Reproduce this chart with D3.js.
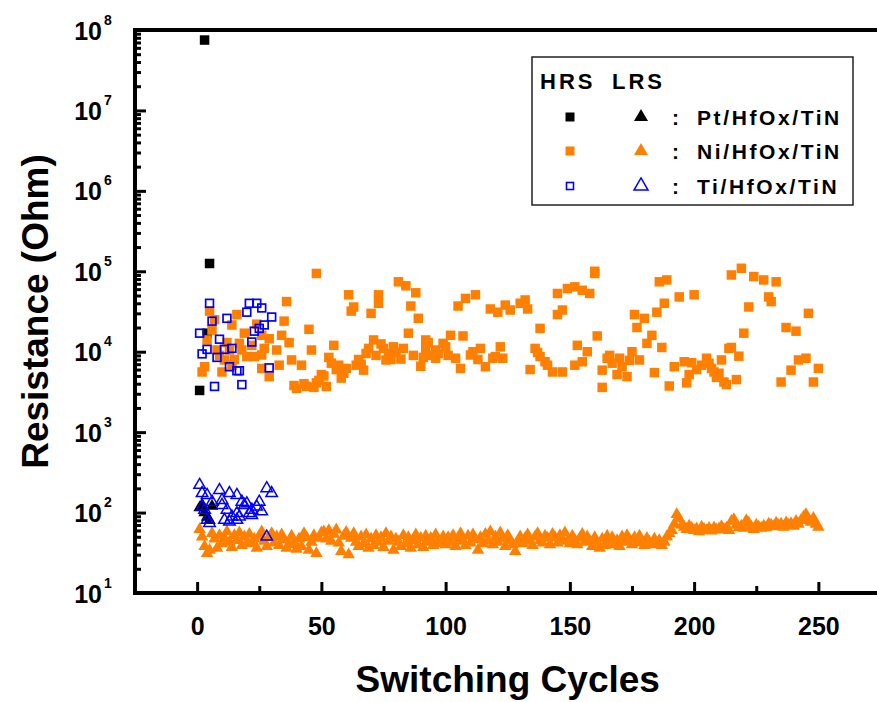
<!DOCTYPE html>
<html>
<head>
<meta charset="utf-8">
<script src="https://cdn.jsdelivr.net/npm/d3@7"></script>
<style>
  html, body { margin: 0; padding: 0; background: #fff; }
  svg { display: block; }
  text { font-family: "Liberation Sans", Arial, sans-serif; font-weight: bold; fill: #000; }
</style>
</head>
<body>
<svg id="chart" width="877" height="702"></svg>
<script>
// ---- data: [cycle, resistance in ohm] ----
const ptHRS = [[1, 3300], [3, 75000000], [4, 17000], [5, 125000]];
const ptLRS = [[1, 115], [2, 125], [3, 100], [4, 88], [5, 80], [6, 120]];

const niHRS = [
  [2, 5600], [3, 6500], [4, 14000], [5, 32000], [6, 18600], [7, 25000], [8, 10500], [9, 9000],
  [10, 5600], [11, 7900], [12, 13000], [13, 10500], [14, 21500], [14, 6800], [15, 8000],
  [16, 29000], [17, 12700], [18, 10500], [19, 17000], [20, 8700], [22, 12000], [23, 8700],
  [24, 22000], [26, 9100], [26, 16000], [26, 6200], [27, 11000], [29, 14500], [29, 4900],
  [32, 10500], [33, 6800], [34, 16000], [35, 24000], [36, 42000], [37, 13000], [38, 7900],
  [39, 3800], [40, 3500], [42, 6800], [43, 4000], [44, 3700], [45, 19000], [46, 10500],
  [47, 3600], [48, 4100], [48, 94000], [49, 4400], [50, 5200], [51, 5000], [52, 3700],
  [53, 8500], [54, 7200], [55, 12000], [56, 6000], [57, 6800], [58, 4700], [59, 5400],
  [60, 6200], [61, 51000], [62, 32000], [63, 36000], [64, 6800], [65, 8000], [66, 7000],
  [67, 5900], [68, 9500], [69, 11000], [70, 30000], [71, 14000], [72, 9000], [73, 51000],
  [73, 40000], [74, 12500], [75, 11000], [76, 7900], [77, 9500], [78, 8000], [79, 11500],
  [80, 9800], [81, 74000], [82, 8100], [83, 11000], [84, 66000], [85, 17000], [86, 37000],
  [87, 9000], [88, 54000], [89, 26000], [90, 6600], [91, 8500], [92, 14000], [92, 11000],
  [93, 13000], [94, 9000],
  [96, 10500], [96, 8300], [97, 9500], [99, 12700], [100, 11500], [101, 9000], [102, 16000],
  [104, 8300], [105, 37000], [106, 6200], [107, 15700], [108, 46000], [110, 9100],
  [111, 10000], [112, 51000], [113, 8000], [114, 11000], [116, 6500], [118, 34000],
  [119, 8300], [120, 8700], [121, 31000], [122, 11500], [123, 8300], [124, 38000],
  [126, 33000], [130, 40000], [132, 44000], [133, 34000], [134, 6000], [136, 11000],
  [137, 9800], [138, 8700], [138, 19500], [140, 7500], [141, 6800], [143, 5600],
  [145, 53000], [145, 29000], [147, 33000], [147, 5600], [149, 61000], [152, 64000],
  [152, 6800], [153, 12000], [155, 58000], [155, 7500], [157, 10000], [158, 53000],
  [160, 94000], [160, 100000], [161, 15700], [163, 5900], [163, 3600], [165, 8300],
  [166, 9000], [167, 7200], [169, 5200], [170, 8300], [171, 6500], [173, 4900],
  [174, 7800], [175, 10000], [176, 29000], [177, 20000], [178, 7900], [180, 26000],
  [181, 12700], [183, 16000], [184, 5500], [185, 31000], [186, 74000], [187, 11300],
  [188, 40000], [189, 78000], [190, 3750], [192, 6500], [194, 48000], [196, 7500],
  [197, 4100], [198, 5200], [199, 7300], [200, 51000], [201, 6000], [203, 6800],
  [205, 8300], [206, 7200], [207, 6200], [208, 5600], [209, 4800], [210, 5400],
  [211, 7900], [212, 4200], [213, 3900], [214, 11000], [215, 90000], [215, 11300],
  [217, 4500], [218, 8800], [219, 109000], [220, 17000], [222, 36000], [224, 86000],
  [228, 78000], [230, 48000], [231, 42000], [233, 74000], [235, 4200], [237, 20000],
  [239, 5900], [241, 18000], [242, 7900], [245, 8300], [246, 30000], [248, 4200], [250, 6200]
];

// LRS of Ni/HfOx/TiN, cycles 1..250 in order
const niLRSValues = [
  62, 50, 38, 31, 34, 55, 47, 36, 52, 41,
  48, 58, 43, 37, 52, 45, 56, 39, 50, 42,
  54, 41, 47, 36, 51, 58, 44, 38, 49, 55,
  42, 50, 39, 53, 46, 36, 40, 51, 43, 35,
  47, 38, 55, 49, 34, 43, 52, 31, 48, 56,
  58, 47, 60, 44, 54, 61, 42, 33, 51, 57,
  30, 48, 55, 43, 38, 50, 41, 53, 36, 47,
  39, 52, 43, 49, 37, 55, 44, 50, 34, 47,
  43, 38, 52, 41, 49, 36, 45, 53, 40, 48,
  37, 51, 43, 48, 39, 53, 44, 41, 50, 40,
  49, 43, 52, 38, 47, 55, 44, 39, 51, 42,
  53, 46, 34, 49, 41, 54, 44, 58, 40, 50,
  43, 56, 47, 38, 52, 45, 40, 33, 44, 50,
  41, 48, 53, 44, 39, 50, 55, 45, 42, 51,
  48, 40, 54, 49, 42, 52, 45, 56, 44, 41,
  51, 45, 40, 48, 54, 43, 50, 44, 38, 49,
  42, 36, 47, 39, 51, 43, 49, 40, 45, 38,
  50, 43, 52, 46, 40, 49, 42, 51, 44, 39,
  48, 43, 40, 47, 42, 45, 39, 43, 50, 55,
  60, 72, 95, 84, 70, 66, 62, 68, 64, 60,
  63, 58, 66, 62, 60, 64, 59, 65, 61, 63,
  67, 62, 64, 60, 78, 82, 70, 65, 68, 64,
  80, 74, 66, 62, 70, 66, 64, 68, 65, 72,
  70, 67, 74, 69, 72, 66, 75, 70, 73, 68,
  78, 72, 80, 88, 95, 82, 76, 85, 72, 66
];

const tiHRS = [
  [1, 17000], [2, 9400], [4, 10700], [5, 40000], [6, 24000], [7, 3700], [8, 8500],
  [9, 14300], [11, 10700], [12, 26000], [13, 6500], [14, 11000], [16, 5800], [17, 5800],
  [18, 3900], [20, 31000], [21, 40000], [22, 13200], [23, 18000], [24, 40000], [25, 19500],
  [26, 35000], [27, 21500], [29, 6300], [30, 27000]
];

const tiLRS = [
  [1, 220], [2, 174], [2, 118], [3, 108], [4, 165], [4, 81], [5, 74], [6, 136], [9, 190],
  [10, 143], [10, 124], [11, 81], [12, 108], [13, 174], [13, 77], [14, 89], [16, 98],
  [16, 81], [16, 165], [17, 89], [18, 136], [19, 124], [20, 130], [21, 98], [22, 108],
  [22, 93], [24, 118], [25, 136], [26, 103], [28, 50], [28, 200], [30, 174]
];

const xTicks = [0, 50, 100, 150, 200, 250];
const xMinorTicks = [25, 75, 125, 175, 225];
const yTicks = [1e1, 1e2, 1e3, 1e4, 1e5, 1e6, 1e7, 1e8];

const legendRows = [
  { name: "Pt/HfOx/TiN", color: "#000000", open: false },
  { name: "Ni/HfOx/TiN", color: "#ff8000", open: false },
  { name: "Ti/HfOx/TiN", color: "#0000ff", open: true }
];

// ---- layout ----
const svg = d3.select("#chart");
const plotL = 135, plotR = 880.5, plotT = 30, plotB = 593;

const x = d3.scaleLinear().domain([-25, 275]).range([plotL, plotR]);
const y = d3.scaleLog().domain([1e1, 1e8]).range([plotB, plotT]);

const orange = "#ff8000", blue = "#0000ff";
const sq = 9.5;
const triArea = Math.sqrt(3) / 4 * 12.5 * 12.5;
const tri = d3.symbol().type(d3.symbolTriangle).size(triArea);
const triOpen = d3.symbol().type(d3.symbolTriangle).size(Math.sqrt(3) / 4 * 11.5 * 11.5);

const plot = svg.append("g");

// filled squares
function squares(data, color) {
  plot.append("g").selectAll("rect").data(data).join("rect")
    .attr("x", d => x(d[0]) - sq / 2).attr("y", d => y(d[1]) - sq / 2)
    .attr("width", sq).attr("height", sq).attr("fill", color);
}
// hollow squares
function openSquares(data, color) {
  plot.append("g").selectAll("rect").data(data).join("rect")
    .attr("x", d => x(d[0]) - (sq - 1.7) / 2).attr("y", d => y(d[1]) - (sq - 1.7) / 2)
    .attr("width", sq - 1.7).attr("height", sq - 1.7)
    .attr("fill", "none").attr("stroke", color).attr("stroke-width", 1.7);
}
function triangles(data, color, open) {
  plot.append("g").selectAll("path").data(data).join("path")
    .attr("d", open ? triOpen : tri)
    .attr("transform", d => `translate(${x(d[0])},${y(d[1])})`)
    .attr("fill", open ? "none" : color)
    .attr("stroke", open ? color : "none")
    .attr("stroke-width", open ? 1.5 : 0);
}

const niLRS = niLRSValues.map((v, i) => [i + 1, v]);

squares(ptHRS, "#000");
triangles(ptLRS, "#000", false);
squares(niHRS, orange);
triangles(niLRS, orange, false);
openSquares(tiHRS, blue);
triangles(tiLRS, blue, true);

// ---- axes ----
const xAxis = svg.append("g").attr("transform", `translate(0,${plotB})`)
  .call(d3.axisBottom(x).tickValues(xTicks).tickSize(-11).tickPadding(0).tickFormat(d3.format("d")));
const xAxisMinor = svg.append("g").attr("transform", `translate(0,${plotB})`)
  .call(d3.axisBottom(x).tickValues(xMinorTicks).tickSize(-7).tickFormat(""));

const yMinor = [];
for (let k = 1; k < 8; k++) for (let m = 2; m <= 9; m++) yMinor.push(m * Math.pow(10, k));

const yAxis = svg.append("g").attr("transform", `translate(${plotL},0)`)
  .call(d3.axisLeft(y).tickValues(yTicks).tickSize(-11).tickFormat(() => "10"));
const yAxisMinor = svg.append("g").attr("transform", `translate(${plotL},0)`)
  .call(d3.axisLeft(y).tickValues(yMinor).tickSize(-6).tickFormat(""));

[xAxis, xAxisMinor, yAxis, yAxisMinor].forEach(g => {
  g.select(".domain").remove();
  g.selectAll(".tick line").attr("stroke", "#000").attr("stroke-width", 3);
});

xAxis.selectAll(".tick text")
  .attr("y", 42).attr("dy", null)
  .attr("font-size", 25).attr("font-family", "Liberation Sans, Arial, sans-serif")
  .attr("font-weight", "bold");

yAxis.selectAll(".tick text")
  .attr("x", -33).attr("dy", null).attr("y", 9)
  .attr("font-size", 25).attr("font-family", "Liberation Sans, Arial, sans-serif")
  .attr("font-weight", "bold").attr("text-anchor", "end");
yAxis.selectAll(".tick").append("text")
  .attr("x", -31).attr("y", -6)
  .attr("font-size", 14).attr("text-anchor", "start")
  .attr("font-family", "Liberation Sans, Arial, sans-serif").attr("font-weight", "bold")
  .attr("fill", "#000")
  .text(d => Math.round(Math.log10(d)));

// frame
svg.append("path")
  .attr("d", `M${plotL},${plotT} V${plotB} H${plotR} V${plotT} Z`)
  .attr("stroke", "#000").attr("stroke-width", 4).attr("fill", "none");

// ---- axis titles ----
svg.append("text")
  .attr("x", (x(-25) + x(275)) / 2).attr("y", 692)
  .attr("text-anchor", "middle").attr("font-size", 37)
  .text("Switching Cycles");

svg.append("text")
  .attr("transform", `translate(48,${(plotT + plotB) / 2}) rotate(-90)`)
  .attr("text-anchor", "middle").attr("font-size", 37)
  .text("Resistance (Ohm)");

// ---- legend ----
const lg = svg.append("g");
lg.append("rect").attr("x", 532).attr("y", 57).attr("width", 321).attr("height", 148)
  .attr("fill", "#fff").attr("stroke", "#222").attr("stroke-width", 1.5);
lg.append("text").attr("x", 540).attr("y", 89).attr("font-size", 22)
  .attr("letter-spacing", 3).text("HRS");
lg.append("text").attr("x", 612).attr("y", 89).attr("font-size", 22)
  .attr("letter-spacing", 3).text("LRS");

const rowY = [117, 151, 186];
const legTri = d3.symbol().type(d3.symbolTriangle).size(Math.sqrt(3) / 4 * 14 * 14);
legendRows.forEach((r, i) => {
  const cy = rowY[i];
  if (r.open) {
    lg.append("rect").attr("x", 570 - 3.5).attr("y", cy - 3.5).attr("width", 7).attr("height", 7)
      .attr("fill", "none").attr("stroke", r.color).attr("stroke-width", 1.6);
  } else {
    lg.append("rect").attr("x", 570 - 4.5).attr("y", cy - 4.5).attr("width", 9).attr("height", 9)
      .attr("fill", r.color);
  }
  lg.append("path").attr("d", legTri).attr("transform", `translate(641,${cy})`)
    .attr("fill", r.open ? "none" : r.color)
    .attr("stroke", r.open ? r.color : "none").attr("stroke-width", 1.5);
  lg.append("text").attr("x", 672).attr("y", cy + 8).attr("font-size", 21).text(":");
  lg.append("text").attr("x", 697).attr("y", cy + 8).attr("font-size", 21)
    .attr("letter-spacing", 2.6).text(r.name);
});
</script>
</body>
</html>
